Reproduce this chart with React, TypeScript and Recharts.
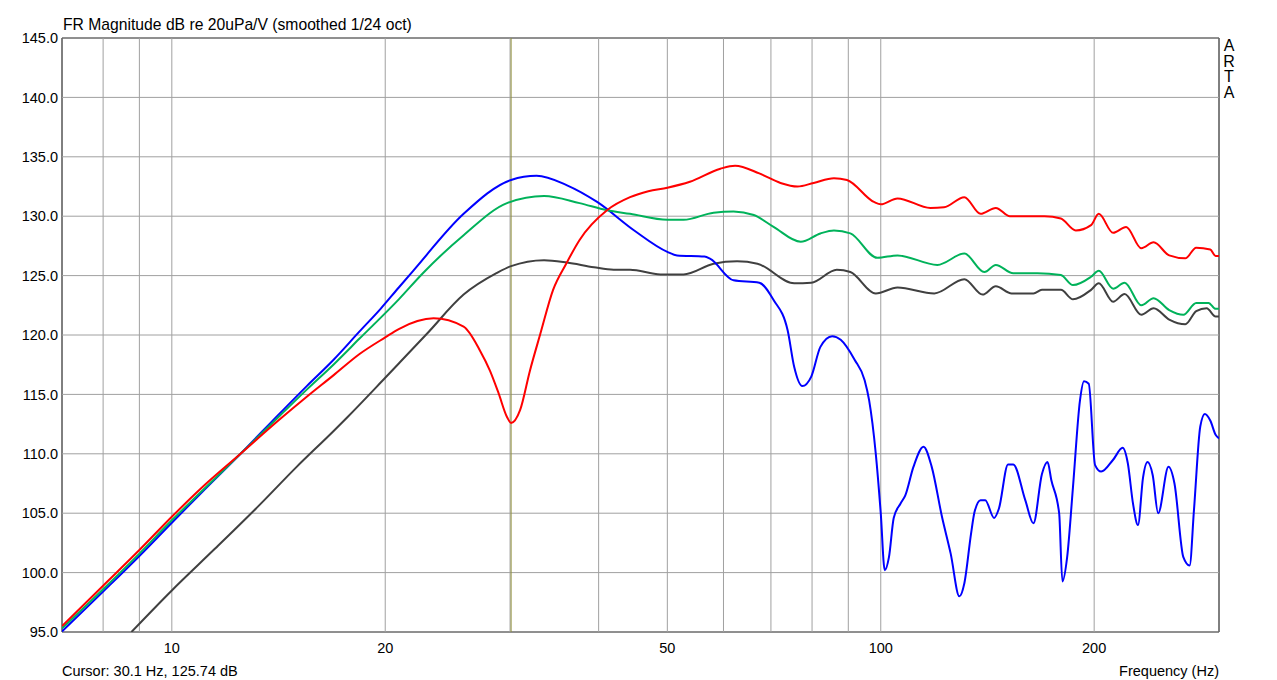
import { LineChart, Line, XAxis, YAxis, ReferenceLine, ReferenceArea } from "recharts";

const xTicks = [10, 20, 50, 100, 200];
const xGrid = [8, 9, 10, 20, 30, 40, 50, 60, 70, 80, 90, 100, 200];
const yTicks = [95, 100, 105, 110, 115, 120, 125, 130, 135, 140, 145];

// black trace
const blackHz = [8.77, 10, 11.5, 13.3, 15, 16.9, 17.7, 20, 20.9, 22.9, 25.8, 28.7, 30.1, 33.5, 36.1, 39.4, 42, 44.3, 48.9, 52.7, 58.1, 62.7, 67, 75.5, 79.8, 86.7, 90.6, 98.4, 105.6, 119, 131.2, 139.2, 145.3, 153, 164.2, 168.8, 179.5, 186.7, 198, 203, 212.7, 220.8, 233.1, 242.6, 255.2, 268.9, 278.6, 288.2, 296.7, 300];
const blackDb = [95.0, 98.5, 102.0, 105.7, 108.9, 111.9, 113.1, 116.4, 117.6, 120.1, 123.4, 125.2, 125.8, 126.3, 126.1, 125.7, 125.5, 125.5, 125.1, 125.1, 126.0, 126.2, 126.0, 124.35, 124.4, 125.5, 125.3, 123.5, 124.0, 123.5, 124.7, 123.4, 124.1, 123.5, 123.5, 123.8, 123.8, 123.0, 123.8, 124.35, 122.8, 123.45, 121.7, 122.25, 121.3, 120.9, 122.0, 122.25, 121.55, 121.55];

// blue trace
const blueHz = [7, 8, 9, 10, 11, 12.5, 14.2, 15.5, 16.9, 18.4, 19.7, 20.9, 21.9, 25.8, 30.1, 32.7, 36.1, 39.8, 44.9, 50, 51.6, 56.4, 57.5, 62, 67.4, 70.6, 73.9, 75.5, 77.5, 79.8, 82.2, 85.4, 87.8, 91.9, 94.9, 96.3, 98.4, 100, 101.3, 102.7, 104.3, 106.6, 108.3, 111.2, 114.9, 118, 122, 125.5, 129.1, 131.2, 134.1, 135.6, 138.3, 140.4, 144.5, 146.8, 151.2, 153.8, 159.9, 164.2, 168.8, 171.9, 174, 178.5, 180.4, 183.2, 186.7, 191, 193.5, 196.5, 200.6, 204.6, 212.7, 219.4, 223.1, 226.9, 230.6, 234.4, 237.8, 241.9, 246.2, 254.6, 259.6, 267.2, 272.7, 276.6, 282.3, 286.5, 291.6, 296.7, 300];
const blueDb = [95.05, 98.4, 101.4, 104.2, 106.7, 110.0, 113.4, 115.7, 117.9, 120.3, 122.2, 124.0, 125.4, 130.2, 133.05, 133.4, 132.6, 131.2, 128.8, 127.0, 126.7, 126.6, 126.4, 124.6, 124.4, 122.95, 120.4, 117.3, 115.7, 116.5, 119.0, 119.9, 119.6, 117.9, 116.2, 114.5, 110.0, 105.0, 100.2, 101.3, 104.6, 105.8, 106.5, 108.9, 110.6, 108.9, 104.7, 101.6, 98.0, 99.1, 103.3, 105.1, 106.1, 106.1, 104.6, 105.4, 109.1, 109.1, 106.1, 104.15, 108.3, 109.3, 107.8, 105.0, 99.25, 101.3, 107.2, 114.5, 116.1, 115.9, 109.05, 108.5, 109.5, 110.5, 109.2, 105.8, 104.0, 108.0, 109.3, 108.2, 105.0, 108.9, 107.5, 101.3, 100.6, 105.3, 112.3, 113.35, 112.8, 111.6, 111.3];

// green trace
const greenHz = [7, 8, 9, 10, 11, 12.5, 14.2, 15.5, 16.9, 18.4, 20.9, 22.6, 25.8, 29.7, 33.5, 37.6, 41.1, 44.3, 50, 52.7, 58.1, 62, 66.2, 70.6, 77.1, 82.2, 85.9, 90.6, 98.9, 105.6, 120.2, 131.2, 140, 145.3, 153.8, 166.3, 179.5, 186.7, 198, 203, 212.7, 220.8, 233.1, 242.6, 255.2, 267.2, 278.6, 290, 296.7, 300];
const greenDb = [95.3, 98.6, 101.6, 104.4, 106.8, 110.0, 113.2, 115.4, 117.5, 119.7, 123.0, 125.2, 128.4, 131.1, 131.7, 131.1, 130.5, 130.2, 129.7, 129.7, 130.3, 130.4, 130.1, 129.1, 127.85, 128.55, 128.8, 128.55, 126.5, 126.7, 125.9, 126.85, 125.3, 125.9, 125.2, 125.2, 125.05, 124.2, 124.9, 125.4, 123.9, 124.4, 122.5, 123.1, 122.1, 121.7, 122.7, 122.7, 122.2, 122.2];

// red trace
const redHz = [7, 8, 9, 10, 11, 12.5, 14.2, 15.5, 16.9, 18.4, 20, 20.9, 23.4, 25.8, 27.2, 28.1, 28.9, 29.7, 30.1, 31, 32, 33.1, 34.5, 36, 37.6, 41.1, 44.3, 47, 50, 53.8, 59.4, 62.3, 67.4, 72.2, 76.3, 80.4, 85.9, 89.6, 97.8, 100, 105.6, 117.5, 122.8, 131.2, 138.3, 145.3, 152.1, 170.2, 179.5, 188.4, 198, 203, 212.7, 221.9, 233.1, 242.6, 255.2, 268.9, 278.6, 291.6, 296.7, 300];
const redDb = [95.5, 98.9, 101.9, 104.7, 107.1, 110.0, 112.9, 114.8, 116.6, 118.4, 119.8, 120.5, 121.4, 120.7, 118.7, 117.0, 115.1, 113.1, 112.6, 113.7, 117.0, 120.1, 123.8, 126.0, 128.0, 130.5, 131.6, 132.1, 132.4, 132.9, 134.0, 134.25, 133.6, 132.8, 132.5, 132.8, 133.2, 133.05, 131.2, 131.0, 131.5, 130.7, 130.75, 131.6, 130.2, 130.7, 130.0, 130.0, 129.8, 128.8, 129.25, 130.2, 128.6, 129.1, 127.3, 127.8, 126.7, 126.45, 127.35, 127.2, 126.65, 126.65];

const toPoints = (hz: number[], db: number[]) => hz.map((f, i) => ({ f, db: db[i] }));

const font = '"Liberation Sans", Arial, sans-serif';

export default function App() {
  const traces = [
    { name: "black", color: "#404040", data: toPoints(blackHz, blackDb) },
    { name: "blue", color: "#0000ff", data: toPoints(blueHz, blueDb) },
    { name: "green", color: "#00b25a", data: toPoints(greenHz, greenDb) },
    { name: "red", color: "#ff0000", data: toPoints(redHz, redDb) },
  ];

  return (
    <div style={{ position: "absolute", left: 0, top: 0, width: 1277, height: 680, background: "#fff", fontFamily: font }}>
      <div style={{ position: "absolute", left: 63, top: 16, fontSize: 15.7, lineHeight: "18px", whiteSpace: "nowrap" }}>
        FR Magnitude dB re 20uPa/V (smoothed 1/24 oct)
      </div>
      <div style={{ position: "absolute", left: 1221, top: 38, width: 16, textAlign: "center", fontSize: 16, lineHeight: "15.5px" }}>
        <div>A</div>
        <div>R</div>
        <div>T</div>
        <div>A</div>
      </div>
      <LineChart width={1277} height={680} margin={{ top: 38, right: 58, bottom: 18, left: 0 }}>
        <XAxis
          dataKey="f"
          type="number"
          scale="log"
          domain={[7, 300]}
          allowDataOverflow
          ticks={xTicks}
          height={30}
          tickSize={0}
          tickMargin={11}
          axisLine={false}
          tickLine={false}
          tick={{ fontSize: 14.5, fill: "#000", fontFamily: font }}
        />
        <YAxis
          type="number"
          domain={[95, 145]}
          allowDataOverflow
          ticks={yTicks}
          width={62}
          tickSize={0}
          tickMargin={4}
          axisLine={false}
          tickLine={false}
          tickFormatter={(v: number) => v.toFixed(1)}
          tick={{ fontSize: 14.5, fill: "#000", fontFamily: font }}
        />
        {yTicks.map((v) => (
          <ReferenceLine key={"h" + v} y={v} stroke="#a0a0a0" strokeWidth={1} />
        ))}
        {xGrid.map((v) => (
          <ReferenceLine key={"v" + v} x={v} stroke="#a0a0a0" strokeWidth={1} />
        ))}
        <ReferenceLine x={30.1} stroke="#8f8f3a" strokeWidth={1} />
        {traces.map((t) => (
          <Line
            key={t.name}
            data={t.data}
            dataKey="db"
            type="monotone"
            stroke={t.color}
            strokeWidth={2}
            dot={false}
            activeDot={false}
            isAnimationActive={false}
          />
        ))}
        <ReferenceArea x1={7} x2={300} y1={95} y2={145} fill="none" stroke="#000" strokeWidth={1} />
      </LineChart>
      <div style={{ position: "absolute", left: 62, top: 663, fontSize: 14.5, lineHeight: "16px", whiteSpace: "nowrap" }}>
        Cursor: 30.1 Hz, 125.74 dB
      </div>
      <div style={{ position: "absolute", left: 0, width: 1219, top: 663, fontSize: 14.5, lineHeight: "16px", textAlign: "right", whiteSpace: "nowrap" }}>
        Frequency (Hz)
      </div>
    </div>
  );
}
